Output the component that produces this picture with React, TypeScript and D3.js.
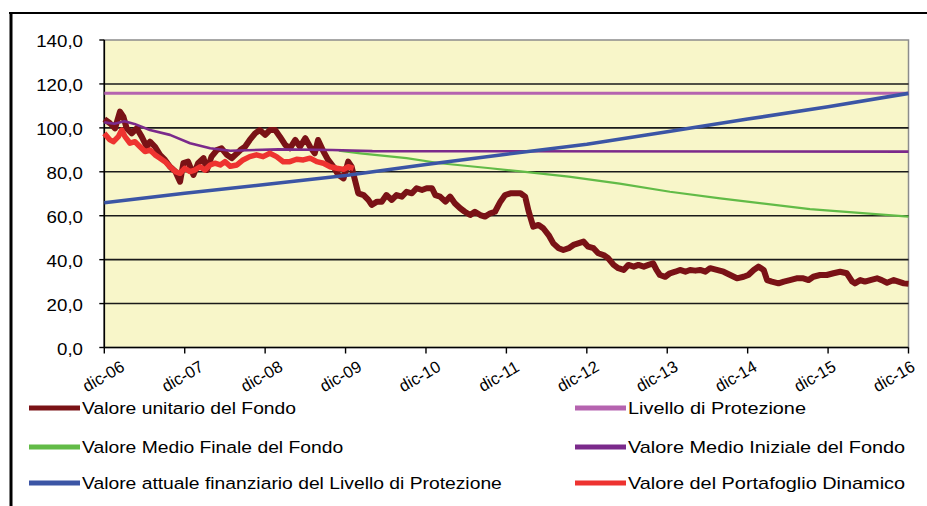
import React, { useEffect, useRef } from 'react';
import * as d3 from 'd3';

const WIDTH = 927;
const HEIGHT = 506;

// x values are months from dic-06 (0) to dic-16 (120)
const TICK_LABELS = ['dic-06', 'dic-07', 'dic-08', 'dic-09', 'dic-10', 'dic-11', 'dic-12', 'dic-13', 'dic-14', 'dic-15', 'dic-16'];
const TICK_MONTHS = [0, 12, 24, 36, 48, 60, 72, 84, 96, 108, 120];
const Y_TICKS = [0, 20, 40, 60, 80, 100, 120, 140];

const FONDO: [number, number][] = [
  [0, 104.0], [0.85, 102.1], [1.6, 99.8], [2.34, 107.4], [2.84, 105.1], [3.34, 99.8], [4.09, 97.5], [4.84, 99.8],
  [5.58, 96.0], [6.33, 91.4], [6.82, 93.7], [7.57, 91.4], [8.31, 87.7], [9.06, 85.4], [9.81, 82.3], [10.6, 80.1],
  [11.3, 75.5], [11.8, 83.9], [12.5, 84.6], [13.3, 78.6], [14.0, 83.9], [14.8, 86.2], [15.3, 80.8], [16.0, 86.9],
  [16.8, 89.9], [17.5, 90.7], [18.3, 87.7], [19.0, 86.2], [19.8, 88.4], [20.3, 89.9], [21.0, 91.4], [21.7, 94.5],
  [22.5, 97.5], [23.2, 99.0], [24.0, 96.8], [24.7, 99.0], [25.5, 99.0], [26.2, 96.0], [27.0, 92.2], [27.7, 90.7],
  [28.5, 94.5], [29.2, 91.4], [30.0, 95.3], [30.7, 91.4], [31.4, 88.4], [31.9, 94.5], [32.7, 89.2], [33.4, 85.4],
  [34.2, 82.3], [34.9, 78.6], [35.7, 77.0], [36.4, 84.6], [36.9, 82.3], [37.4, 76.3], [37.9, 70.2], [38.7, 69.4],
  [39.4, 67.2], [39.9, 64.9], [40.7, 66.4], [41.4, 66.4], [42.1, 69.4], [42.9, 67.2], [43.6, 69.4], [44.4, 68.7],
  [45.1, 70.9], [45.9, 70.2], [46.6, 72.5], [47.4, 71.7], [48.1, 72.5], [48.9, 72.5], [49.4, 69.4], [50.1, 68.7],
  [50.9, 66.4], [51.6, 68.7], [52.3, 65.7], [53.1, 63.4], [53.8, 61.8], [54.6, 60.3], [55.3, 61.8], [56.1, 60.3],
  [56.8, 59.6], [57.6, 61.1], [58.3, 61.8], [59.1, 66.4], [59.8, 69.4], [60.6, 70.2], [61.3, 70.2], [62.1, 70.2],
  [62.8, 68.7], [63.3, 62.2], [64.0, 55.0], [64.8, 55.8], [65.5, 54.3], [66.3, 51.2], [67.0, 47.4], [67.8, 45.2],
  [68.5, 44.4], [69.3, 45.2], [70.0, 46.7], [70.7, 47.4], [71.5, 48.2], [72.2, 45.9], [73.0, 45.2], [73.7, 42.9],
  [74.5, 42.1], [75.2, 40.6], [76.0, 37.6], [76.7, 36.1], [77.5, 35.3], [78.2, 37.6], [79.0, 36.8], [79.7, 37.6],
  [80.5, 36.8], [81.2, 37.6], [81.9, 38.3], [82.4, 35.3], [82.9, 33.0], [83.7, 32.2], [84.4, 33.8], [85.2, 34.5],
  [85.9, 35.3], [86.7, 34.5], [87.4, 35.3], [88.2, 35.0], [88.9, 35.3], [89.7, 34.5], [90.4, 36.1], [91.4, 35.3],
  [92.4, 34.5], [93.4, 33.0], [94.4, 31.5], [95.4, 32.2], [96.1, 33.0], [96.9, 35.3], [97.6, 36.8], [98.4, 35.3],
  [98.9, 30.7], [99.6, 30.0], [100.6, 29.2], [101.4, 30.0], [102.3, 30.7], [103.3, 31.5], [104.3, 31.5], [105.1, 30.7],
  [105.8, 32.2], [106.8, 33.0], [107.8, 33.0], [108.8, 33.8], [109.8, 34.5], [110.8, 33.8], [111.6, 30.0], [112.0, 29.2],
  [112.8, 30.7], [113.5, 30.0], [114.3, 30.7], [115.3, 31.5], [116.0, 30.7], [116.8, 29.5], [117.8, 30.7], [118.5, 30.0],
  [119.3, 29.2], [120, 29.0]
];

const PROTEZIONE: [number, number][] = [[0, 115.7], [120, 115.7]];

const MEDIO_FINALE: [number, number][] = [
  [35, 89.6], [38.2, 88.4], [45.1, 86.2], [50.1, 83.9], [57.6, 81.6], [62.1, 80.2], [69.3, 77.8],
  [76.9, 74.6], [84.4, 70.9], [91.9, 67.9], [105.3, 63.0], [120, 59.6]
];

const MEDIO_INIZIALE: [number, number][] = [
  [0, 102.5], [1.5, 101.9], [3, 103.0], [4.5, 101.8], [6.8, 99.0], [9.8, 96.8], [12.8, 93.0],
  [15.8, 90.7], [18.8, 89.6], [26, 90.2], [34, 89.9], [40, 89.4], [120, 89.2]
];

const VALORE_ATTUALE: [number, number][] = [
  [0, 65.9], [12, 70.2], [24, 74.2], [36, 78.3], [48, 83.3], [60, 88.0], [72, 92.5],
  [84, 98.2], [96, 104.0], [108, 109.6], [120, 115.7]
];

const PORTAFOGLIO: [number, number][] = [
  [0, 97.5], [0.85, 94.5], [1.34, 93.7], [2.09, 96.0], [2.6, 99.0], [3.09, 96.0], [3.84, 93.0], [4.58, 93.7],
  [5.33, 91.4], [6.07, 89.2], [6.82, 89.9], [7.57, 87.7], [8.31, 86.2], [9.06, 84.6], [9.81, 82.3], [10.6, 80.1],
  [11.3, 79.3], [12.0, 81.6], [12.8, 80.1], [13.5, 80.8], [14.3, 82.3], [15.0, 80.8], [15.8, 83.1], [16.5, 83.9],
  [17.3, 83.1], [18.0, 84.6], [18.8, 82.5], [19.8, 83.1], [20.7, 85.4], [21.7, 86.9], [22.7, 87.7], [23.7, 86.9],
  [24.7, 88.4], [25.7, 86.9], [26.7, 84.6], [27.7, 84.6], [28.7, 85.7], [29.7, 85.4], [30.7, 86.2], [31.7, 84.6],
  [32.7, 83.9], [33.7, 82.3], [34.7, 81.6], [35.7, 81.1], [36.4, 82.3], [37.2, 81.6]
];

const LEGEND_LABELS = [
  'Valore unitario del Fondo',
  'Livello di Protezione',
  'Valore Medio Finale del Fondo',
  'Valore Medio Iniziale del Fondo',
  'Valore attuale finanziario del Livello di Protezione',
  'Valore del Portafoglio Dinamico'
];

const COLORS = ['#7a1216', '#b563af', '#62bb47', '#7b2a8b', '#3b55a5', '#ee3330'];
const WIDTHS = [6, 3, 2.2, 2.6, 3.6, 5.5];

const fmt = d3.formatLocale({ decimal: ',', thousands: '.', grouping: [3], currency: ['€', ''] }).format('.1f');

export default function App() {
  const svgRef = useRef<SVGSVGElement>(null);

  useEffect(() => {
    document.body.style.margin = '0';
    if (!svgRef.current) return;
    const svg = d3.select(svgRef.current);
    svg.selectAll('*').remove();

    const x = d3.scaleLinear().domain([0, 120]).range([104.3, 908.5]);
    const y = d3.scaleLinear().domain([0, 140]).range([347.5, 40]);
    const font = 'Liberation Sans, Arial, sans-serif';

    svg.append('rect').attr('width', WIDTH).attr('height', HEIGHT).attr('fill', '#fff');

    // outer frame
    svg.append('line').attr('x1', 9).attr('x2', WIDTH).attr('y1', 13).attr('y2', 13)
      .attr('stroke', '#000').attr('stroke-width', 2);
    svg.append('line').attr('x1', 11).attr('x2', 11).attr('y1', 12).attr('y2', HEIGHT)
      .attr('stroke', '#000').attr('stroke-width', 3);

    // plot area
    svg.append('rect')
      .attr('x', x(0)).attr('y', y(140))
      .attr('width', x(120) - x(0)).attr('height', y(0) - y(140))
      .attr('fill', '#f8f6c9').attr('stroke', '#8c8c8c').attr('stroke-width', 1.5);

    svg.append('g').selectAll('line')
      .data(Y_TICKS.filter(v => v > 0 && v < 140))
      .join('line')
      .attr('x1', x(0)).attr('x2', x(120))
      .attr('y1', d => y(d)).attr('y2', d => y(d))
      .attr('stroke', '#1a1a1a').attr('stroke-width', 1.6);

    // axes
    svg.append('line').attr('x1', x(0)).attr('x2', x(0)).attr('y1', y(140)).attr('y2', y(0))
      .attr('stroke', '#000').attr('stroke-width', 1.6);
    svg.append('line').attr('x1', x(0)).attr('x2', x(120)).attr('y1', y(0)).attr('y2', y(0))
      .attr('stroke', '#000').attr('stroke-width', 1.6);

    svg.append('g').selectAll('line')
      .data(Y_TICKS)
      .join('line')
      .attr('x1', x(0) - 5).attr('x2', x(0))
      .attr('y1', d => y(d)).attr('y2', d => y(d))
      .attr('stroke', '#000').attr('stroke-width', 1.4);

    svg.append('g').selectAll('text')
      .data(Y_TICKS)
      .join('text')
      .attr('transform', d => `translate(83,${y(d) + 7}) scale(1.1,1)`)
      .attr('text-anchor', 'end')
      .style('font-family', font)
      .style('font-size', '17px')
      .attr('fill', '#000')
      .text(d => fmt(d));

    svg.append('g').selectAll('line')
      .data(TICK_MONTHS)
      .join('line')
      .attr('x1', d => x(d)).attr('x2', d => x(d))
      .attr('y1', y(0)).attr('y2', y(0) + 6)
      .attr('stroke', '#000').attr('stroke-width', 1.4);

    svg.append('g').selectAll('text')
      .data(TICK_MONTHS)
      .join('text')
      .attr('transform', d => `translate(${103.3 + (x(d) - x(0)) * 0.983},376) rotate(-30)`)
      .attr('text-anchor', 'middle')
      .attr('dominant-baseline', 'central')
      .style('font-family', font)
      .style('font-size', '16.5px')
      .attr('fill', '#000')
      .text((d, i) => TICK_LABELS[i]);

    // series, drawn in legend order
    const line = d3.line<[number, number]>().x(d => x(d[0])).y(d => y(d[1]));
    const series = [FONDO, PROTEZIONE, MEDIO_FINALE, MEDIO_INIZIALE, VALORE_ATTUALE, PORTAFOGLIO];
    series.forEach((s, i) => {
      svg.append('path')
        .datum(s)
        .attr('fill', 'none')
        .attr('stroke', COLORS[i])
        .attr('stroke-width', WIDTHS[i])
        .attr('stroke-linejoin', 'round')
        .attr('d', line);
    });

    // legend
    const rows = [408, 447, 483];
    LEGEND_LABELS.forEach((label, i) => {
      const col = i % 2;
      const ry = rows[Math.floor(i / 2)];
      const sx = col === 0 ? 29 : 575;
      svg.append('line')
        .attr('x1', sx).attr('x2', sx + 51)
        .attr('y1', ry).attr('y2', ry)
        .attr('stroke', COLORS[i]).attr('stroke-width', 5);
      svg.append('text')
        .attr('transform', `translate(${sx + 53},${ry + 6}) scale(${col === 0 ? 1.135 : 1.17},1)`)
        .style('font-family', font)
        .style('font-size', '17px')
        .attr('fill', '#000')
        .text(label);
    });
  }, []);

  return <svg ref={svgRef} width={WIDTH} height={HEIGHT} style={{ display: 'block' }} />;
}
